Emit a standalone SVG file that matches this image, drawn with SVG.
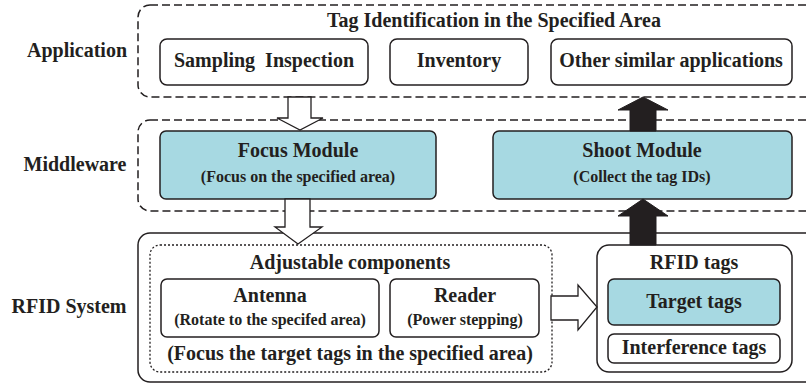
<svg xmlns="http://www.w3.org/2000/svg" width="806" height="383" viewBox="0 0 806 383">
<style>
text{font-family:"Liberation Serif","Times New Roman",serif;font-weight:bold;fill:#231f20;text-anchor:middle}
.big{font-size:20px}
.sub{font-size:16px}
.box{fill:#fff;stroke:#231f20;stroke-width:1.5}
.blue{fill:#a7d9e2;stroke:#231f20;stroke-width:1.5}
.dash{fill:none;stroke:#231f20;stroke-width:1.5;stroke-dasharray:8 4}
.dot{fill:none;stroke:#231f20;stroke-width:1.3;stroke-dasharray:2 2}
.hollow{fill:#fff;stroke:#231f20;stroke-width:1.3}
.solid{fill:#231f20;stroke:#231f20;stroke-width:1}
</style>
<rect width="806" height="383" fill="#fff"/>
<g id="layer-labels">
<text class="big" x="77" y="57">Application</text>
<text class="big" x="75" y="171">Middleware</text>
<text class="big" x="69" y="313">RFID System</text>
</g>
<g id="application">
<rect class="dash" x="138" y="5" width="690" height="92" rx="12"/>
<text class="big" x="494" y="27">Tag Identification in the Specified Area</text>
</g>
<g id="sampling">
<rect class="box" x="160" y="39" width="208" height="46" rx="7"/>
<text class="big" x="264" y="67" xml:space="preserve">Sampling  Inspection</text>
</g>
<g id="inventory">
<rect class="box" x="390" y="39" width="138" height="46" rx="7"/>
<text class="big" x="459" y="67">Inventory</text>
</g>
<g id="other">
<rect class="box" x="551" y="39" width="241" height="46" rx="7"/>
<text class="big" x="671" y="67">Other similar applications</text>
</g>
<g id="middleware">
<rect class="dash" x="138" y="120" width="690" height="91" rx="12"/>
</g>
<g id="focus">
<rect class="blue" x="160" y="131" width="276" height="68" rx="6"/>
<text class="big" x="298" y="157">Focus Module</text>
<text class="sub" x="298" y="182">(Focus on the specified area)</text>
</g>
<g id="shoot">
<rect class="blue" x="493" y="131" width="299" height="68" rx="6"/>
<text class="big" x="642" y="157">Shoot Module</text>
<text class="sub" x="642" y="182">(Collect the tag IDs)</text>
</g>
<g id="rfid-system">
<rect class="box" x="138" y="233" width="690" height="149" rx="12"/>
</g>
<g id="adjustable">
<rect class="dot" x="150" y="245" width="402" height="127" rx="10"/>
<text class="big" x="350" y="269">Adjustable components</text>
<text class="big" x="350" y="360">(Focus the target tags in the specified area)</text>
</g>
<g id="antenna">
<rect class="box" x="161" y="279" width="218" height="58" rx="6"/>
<text class="big" x="270" y="302">Antenna</text>
<text class="sub" x="270" y="325">(Rotate to the specifed area)</text>
</g>
<g id="reader">
<rect class="box" x="390" y="279" width="149" height="58" rx="6"/>
<text class="big" x="465" y="302">Reader</text>
<text class="sub" x="465" y="325">(Power stepping)</text>
</g>
<g id="rfid-tags">
<rect class="box" x="597" y="245" width="195" height="127" rx="12"/>
<text class="big" x="694" y="269">RFID tags</text>
</g>
<g id="target-tags">
<rect class="blue" x="608" y="279" width="172" height="46" rx="6"/>
<text class="big" x="694" y="308">Target tags</text>
</g>
<g id="interference-tags">
<rect class="box" x="608" y="334" width="172" height="29" rx="6"/>
<text class="big" x="694" y="354">Interference tags</text>
</g>
<g id="connectors">
<path class="hollow" d="M288 97 L311 97 L311 118 L323 118 L300 130 L277 118 L288 118 Z"/>
<path class="hollow" d="M285 199 L310 199 L310 227 L322 227 L298 244 L275 227 L285 227 Z"/>
<path class="hollow" d="M551 296 L578 296 L578 285 L597 307 L578 330 L578 320 L551 320 Z"/>
<path class="solid" d="M630 131 L630 110 L618 110 L643 97 L668 110 L656 110 L656 131 Z"/>
<path class="solid" d="M630 245 L630 216 L618 216 L643 199 L668 216 L656 216 L656 245 Z"/>
</g>
</svg>
